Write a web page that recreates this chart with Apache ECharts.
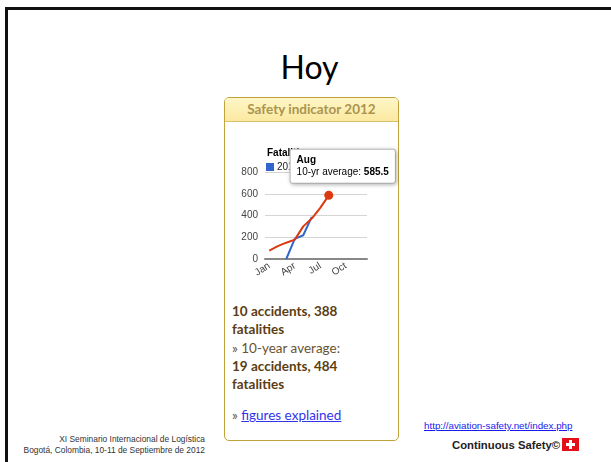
<!DOCTYPE html>
<html>
<head>
<meta charset="utf-8">
<script src="https://cdn.jsdelivr.net/npm/echarts@6/dist/echarts.min.js"></script>
<style>
  html, body { margin: 0; padding: 0; background: #fff; }
  body { width: 611px; height: 462px; position: relative; overflow: hidden; font-family: 'Liberation Sans', sans-serif; }
  .slide { position: absolute; left: 5px; top: 7px; width: 620px; height: 470px; border-left: 3px solid #111; border-top: 3px solid #111; }
  .title { position: absolute; left: 4px; width: 611px; top: 47px; text-align: center; font-family: Lato, sans-serif; font-size: 32px; color: #000; }
  .widget { position: absolute; left: 224px; top: 97px; width: 175px; height: 344px; border: 1px solid #c2a23a; border-radius: 5px; box-sizing: border-box; }
  .widget-head { height: 23px; background: linear-gradient(#fff6c8, #fbe9a0); border-bottom: 1px solid #d8c070; border-radius: 4px 4px 0 0; text-align: center; font-family: Lato, sans-serif; font-weight: bold; font-size: 13.5px; line-height: 23px; color: #ab9450; }
  .stats { position: absolute; left: 232px; top: 302px; font-family: Lato, sans-serif; font-size: 13.5px; line-height: 18.3px; color: #5b3d12; }
  .stats b { font-weight: bold; }
  .stats .dim { color: #6b5230; }
  .stats a { color: #3333ee; text-decoration: underline; }
  #chart { position: absolute; left: 225px; top: 121px; width: 174px; height: 175px; }
  .foot-left { position: absolute; right: 406px; top: 434px; text-align: right; font-size: 8.4px; line-height: 11px; color: #333; }
  .foot-link { position: absolute; left: 424px; top: 420px; font-size: 9.8px; color: #1a1aee; text-decoration: underline; }
  .brand { position: absolute; left: 452px; top: 438px; font-size: 11.3px; font-weight: bold; color: #222; }
  .flag { display: inline-block; width: 17px; height: 13px; background: #e3101a; position: relative; vertical-align: -2px; margin-left: 2px; }
  .flag:before { content: ''; position: absolute; left: 7px; top: 2px; width: 3px; height: 9px; background: #fff; }
  .flag:after { content: ''; position: absolute; left: 4px; top: 5px; width: 9px; height: 3px; background: #fff; }
</style>
</head>
<body>
<div class="slide"></div>
<div class="title">Hoy</div>
<div class="widget"><div class="widget-head">Safety indicator 2012</div></div>
<div id="chart"></div>
<div class="stats">
  <b>10 accidents, 388<br>fatalities</b><br>
  <span class="dim">» 10-year average:</span><br>
  <b>19 accidents, 484<br>fatalities</b><br>
  <div style="height:13px"></div>
  <span class="dim">»</span> <a>figures explained</a>
</div>
<div class="foot-left">XI Seminario Internacional de Logística<br>Bogotá, Colombia, 10-11 de Septiembre de 2012</div>
<div class="foot-link">http://aviation-safety.net/index.php</div>
<div class="brand">Continuous Safety©<span class="flag"></span></div>

<script>
const months = ['Jan', 'Feb', 'Mar', 'Apr', 'May', 'Jun', 'Jul', 'Aug', 'Sep', 'Oct', 'Nov', 'Dec']
// cumulative fatalities 2012 (blue)
const fatal2012 = [null, null, 0, 185, 218, 388, null, null, null, null, null, null]
// 10-year average, cumulative (red)
const avg10yr = [78, 118, 150, 178, 300, 372, 470, 585.5, null, null, null, null]
const yTicks = [0, 200, 400, 600, 800]

const chart = echarts.init(document.getElementById('chart'))
const option = {
  animation: false,
  title: {
    text: 'Fatalities',
    left: 37,
    top: 22,
    z: 1,
    textStyle: { fontSize: 10, fontWeight: 'bold', color: '#000', fontFamily: 'Liberation Sans' },
  },
  legend: {
    data: ['2012'],
    left: 36,
    top: 36,
    z: 1,
    icon: 'rect',
    itemWidth: 8,
    itemHeight: 8,
    itemGap: 4,
    textStyle: { fontSize: 10, color: '#222', fontFamily: 'Liberation Sans', padding: [0, 0, 0, -2] },
  },
  grid: {
    left: 40,
    right: 32,
    top: 51,
    bottom: 37,
  },
  xAxis: {
    type: 'category',
    data: months,
    boundaryGap: true,
    axisLine: { lineStyle: { color: '#888', width: 2 } },
    axisTick: { show: false },
    axisLabel: {
      interval: 2,
      rotate: 33,
      margin: 6,
      fontSize: 10,
      color: '#444',
      fontFamily: 'Liberation Sans',
    },
  },
  yAxis: {
    type: 'value',
    min: yTicks[0],
    max: yTicks[yTicks.length - 1],
    interval: 200,
    axisLine: { show: false },
    axisTick: { show: false },
    axisLabel: { fontSize: 10, color: '#444', margin: 7, fontFamily: 'Liberation Sans' },
    splitLine: { lineStyle: { color: '#d4d4d4', width: 1 } },
  },
  series: [
    {
      name: '2012',
      type: 'line',
      data: fatal2012,
      symbol: 'none',
      lineStyle: { color: '#3366cc', width: 2 },
      itemStyle: { color: '#3366cc' },
      z: 3,
    },
    {
      name: '10-yr average',
      type: 'line',
      data: avg10yr,
      symbol: 'none',
      lineStyle: { color: '#dc3912', width: 2 },
      itemStyle: { color: '#dc3912' },
      z: 4,
      markPoint: {
        symbol: 'circle',
        symbolSize: 9,
        z: 10,
        itemStyle: { color: '#dc3912' },
        data: [{ coord: ['Aug', 585.5] }],
        label: {
          show: true,
          position: 'top',
          distance: 8,
          offset: [14, 0],
          formatter: '{t|Aug}\n{v|10-yr average: }{b|585.5}',
          backgroundColor: '#fff',
          borderColor: '#c4c4c4',
          borderWidth: 1,
          borderRadius: 2,
          padding: [4, 6, 5, 6],
          shadowBlur: 4,
          shadowColor: 'rgba(0,0,0,0.25)',
          shadowOffsetX: 1,
          shadowOffsetY: 1,
          rich: {
            t: { fontSize: 10, fontWeight: 'bold', color: '#000', lineHeight: 12, fontFamily: 'Liberation Sans', align: 'left' },
            v: { fontSize: 10, color: '#000', lineHeight: 12, fontFamily: 'Liberation Sans', align: 'left' },
            b: { fontSize: 10, fontWeight: 'bold', color: '#000', lineHeight: 12, fontFamily: 'Liberation Sans', align: 'left' },
          },
        },
      },
    },
  ],
}
chart.setOption(option)
</script>
</body>
</html>
